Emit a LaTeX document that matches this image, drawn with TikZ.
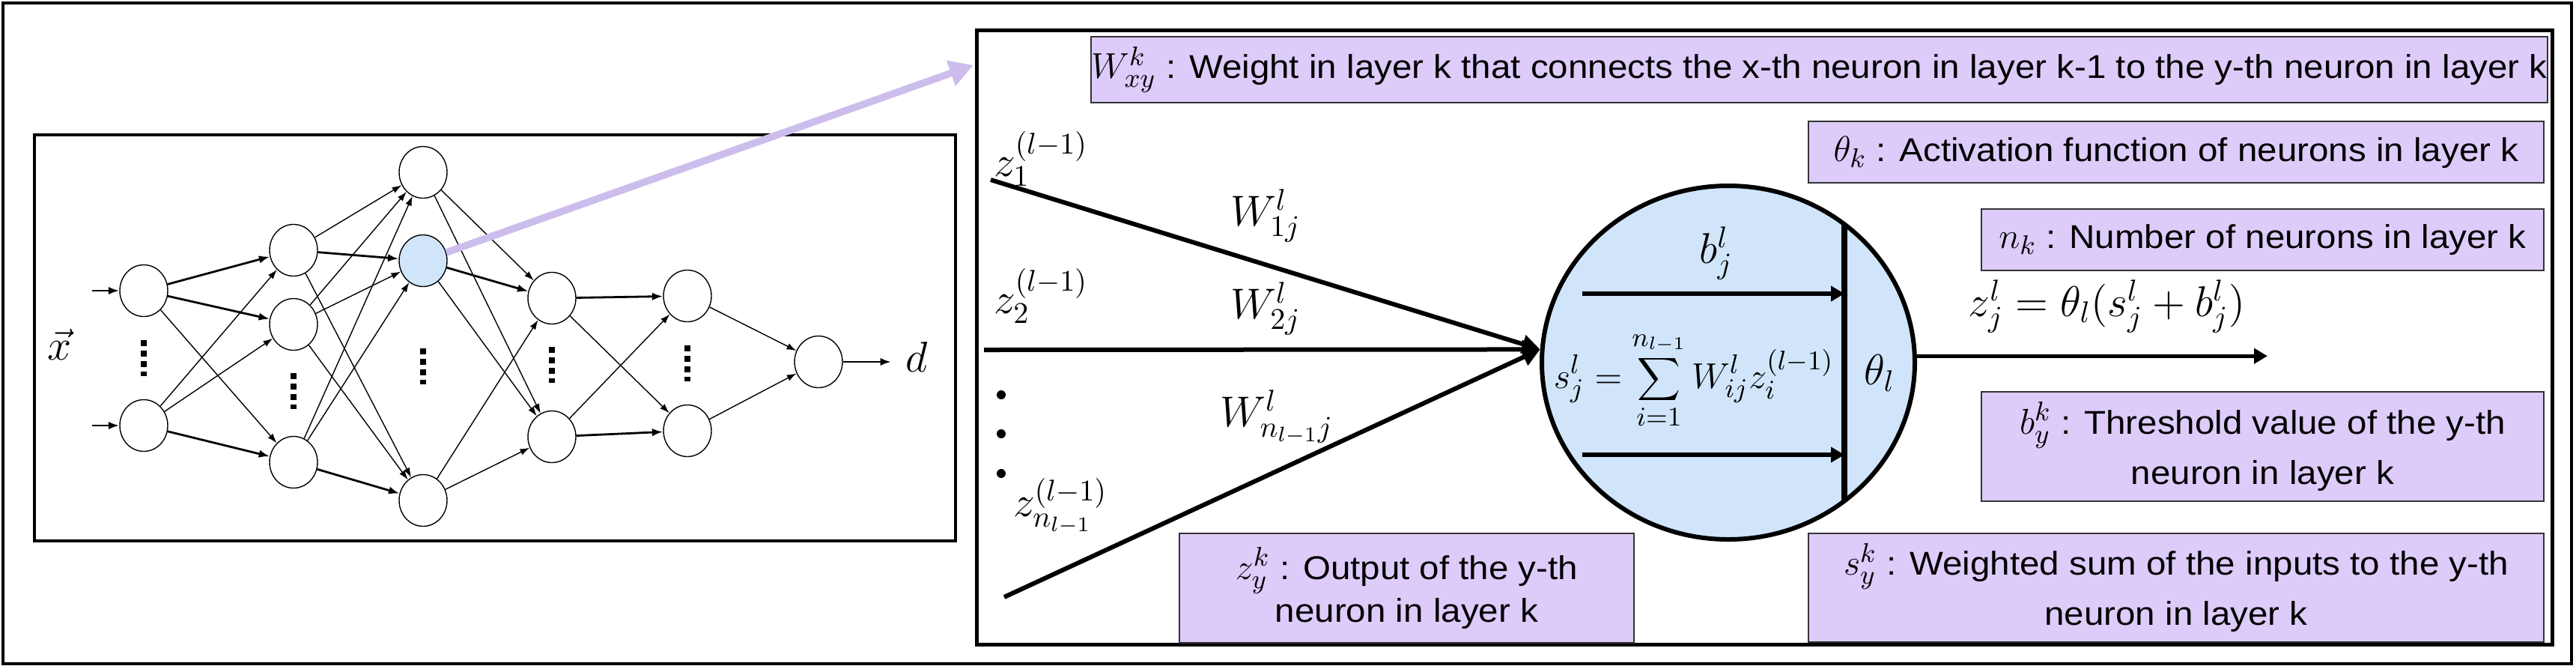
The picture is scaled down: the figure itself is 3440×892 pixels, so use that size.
\documentclass[tikz,border=0pt]{standalone}
\usepackage{fontspec}
\newfontfamily\boxfont[FakeStretch=1.08]{Liberation Sans}
\usetikzlibrary{shapes.geometric,arrows.meta}
\definecolor{nodeblue}{RGB}{208,229,250}
\definecolor{purp}{RGB}{221,204,250}
\definecolor{purparrow}{RGB}{205,189,236}
\newcommand{\boxmath}[1]{{\fontsize{12.5}{14}\selectfont$#1$}}
\begin{document}
\begin{tikzpicture}[x=0.25pt,y=-0.25pt,
  neu/.style={ellipse,draw=black,line width=0.35pt,fill=white,minimum width=16pt,minimum height=17.25pt,inner sep=0pt},
  netedge/.style={line width=0.35pt,-{Latex[length=3.2pt,width=2.2pt]}},
  boldedge/.style={line width=0.7pt,-{Latex[length=3.6pt,width=2.6pt]}},
  vdotsline/.style={line width=2pt,dash pattern=on 2pt off 1.5pt},
  boxframe/.style={draw=black,line width=1pt},
  pbox/.style={draw=black!80,line width=0.5pt,fill=purp,inner sep=0pt,align=center,font=\boxfont\fontsize{11}{16.75}\selectfont},
  bigarrow/.style={line width=1.5pt,-{Triangle[length=6pt,width=6pt]}},
  inarrow/.style={line width=1.3pt,-{Triangle[length=4.5pt,width=5pt]}},
  mlabel/.style={font=\fontsize{14}{16}\selectfont,inner sep=0pt},
]
\useasboundingbox (0,0) rectangle (3440,892);
% frames
\draw[boxframe] (4,4) rectangle (3434,886);
\draw[boxframe] (46,180) rectangle (1276,722);
\draw[line width=1.25pt] (1304,40) rectangle (3408,860);

% ---------------- small network ----------------
\node[neu] (a1) at (192,388) {};
\node[neu] (a2) at (192,568) {};
\node[neu] (b1) at (392,334) {};
\node[neu] (b2) at (392,433) {};
\node[neu] (b3) at (392,617) {};
\node[neu] (c1) at (565,230) {};
\node[neu,fill=nodeblue] (c2) at (565,348) {};
\node[neu] (c3) at (565,668) {};
\node[neu] (d1) at (737,398) {};
\node[neu] (d2) at (737,583) {};
\node[neu] (e1) at (918,395) {};
\node[neu] (e2) at (918,575) {};
\node[neu] (o) at (1093,483) {};

\foreach \s/\t in {a1/b3,a2/b1,a2/b2,b1/c1,b1/c3,b2/c1,b2/c2,b2/c3,b3/c1,b3/c2,
                   c1/d1,c1/d2,c2/d2,c3/d1,c3/d2,d1/e2,d2/e1,e1/o,e2/o}
  \draw[netedge] (\s) -- (\t);
\foreach \s/\t in {a1/b1,a1/b2,a2/b3,b1/c2,b3/c3,c2/d1,d1/e1,d2/e2}
  \draw[boldedge] (\s) -- (\t);

\coordinate (in1) at (123,388);
\coordinate (in2) at (123,568);
\draw[boldedge] (in1) -- (a1);
\draw[boldedge] (in2) -- (a2);
\coordinate (outd) at (1190,483);
\draw[boldedge] (o) -- (outd);
\node[mlabel] (dlab) at (1224,476) {$d$};
\node[mlabel] (xlab) at (80,460) {$\vec{x}$};

\draw[vdotsline] (192,454) -- (192,502);
\draw[vdotsline] (392,498) -- (392,546);
\draw[vdotsline] (565,465) -- (565,513);
\draw[vdotsline] (737,463) -- (737,511);
\draw[vdotsline] (918,461) -- (918,509);

% purple pointer arrow
\coordinate (ptip) at (1300,87);
\draw[purparrow,line width=2.4pt,-{Triangle[length=8pt,width=8.5pt]}] (c2) -- (ptip);

% ---------------- big neuron ----------------
\node[ellipse,draw,line width=1.5pt,fill=nodeblue,minimum width=124.5pt,minimum height=118pt,inner sep=0pt] (neuron) at (2308,484) {};
\draw[line width=1.8pt] (2463,299) -- (2463,669);
\coordinate (bs1) at (2113,392);
\coordinate (be1) at (2463,392);
\coordinate (bs2) at (2113,607);
\coordinate (be2) at (2463,607);
\draw[inarrow] (bs1) -- (be1);
\draw[inarrow] (bs2) -- (be2);
\node[mlabel] (blab) at (2292,338) {$b_j^l$};
\node[mlabel,font=\fontsize{13}{16}\selectfont] (sform) at (2262,508) {$\displaystyle s_j^l = \sum_{i=1}^{n_{l-1}} W_{ij}^l z_i^{(l-1)}$};
\node[mlabel] (thetal) at (2510,498) {$\theta_l$};

\coordinate (zout) at (3028,473);
\draw[inarrow] (neuron.2) -- (neuron.2 -| zout);
\node[mlabel,anchor=base west] (zjl) at (2628,422) {$z_j^l = \theta_l(s_j^l + b_j^l)$};

% inputs
\coordinate (z1s) at (1323,240);
\coordinate (z2s) at (1314,467);
\coordinate (zns) at (1341,797);
\draw[bigarrow] (z1s) -- (neuron.176);
\draw[bigarrow] (z2s) -- (neuron.176);
\draw[bigarrow] (zns) -- (neuron.176);
\fill (1337,527) circle (6);
\fill (1337,579) circle (6);
\fill (1337,632) circle (6);

\node[mlabel] (w1) at (1690,288) {$W^l_{1j}$};
\node[mlabel] (w2) at (1690,412) {$W^l_{2j}$};
\node[mlabel] (wn) at (1705,557) {$W^l_{n_{l-1}j}$};
\node[mlabel] (z1l) at (1390,212) {$z_1^{(l-1)}$};
\node[mlabel] (z2l) at (1390,395) {$z_2^{(l-1)}$};
\node[mlabel] (znl) at (1416,676) {$z_{n_{l-1}}^{(l-1)}$};

% ---------------- legend boxes ----------------
\node[pbox,minimum width=483.75pt,minimum height=22pt] (bw) at (2429.5,93) {\boxmath{W^k_{xy}} : Weight in layer k that connects the x-th neuron in layer k-1 to the y-th neuron in layer k};
\node[pbox,minimum width=245.5pt,minimum height=20.5pt] (bt) at (2906,203) {\boxmath{\theta_k} : Activation function of neurons in layer k};
\node[pbox,minimum width=187.75pt,minimum height=20.5pt] (bn) at (3021.5,320) {\boxmath{n_k} : Number of neurons in layer k};
\node[pbox,minimum width=187.75pt,minimum height=36.5pt] (bb) at (3021.5,596) {\boxmath{b^k_y} : Threshold value of the y-th\\neuron in layer k};
\node[pbox,minimum width=245.5pt,minimum height=36.25pt] (bsum) at (2906,784.5) {\boxmath{s^k_y} : Weighted sum of the inputs to the y-th\\neuron in layer k};
\node[pbox,minimum width=151.75pt,minimum height=36.5pt,font=\boxfont\fontsize{11}{14.25}\selectfont] (bz) at (1878.5,785) {\boxmath{z^k_y} : Output of the y-th\\neuron in layer k};
\end{tikzpicture}
\end{document}
